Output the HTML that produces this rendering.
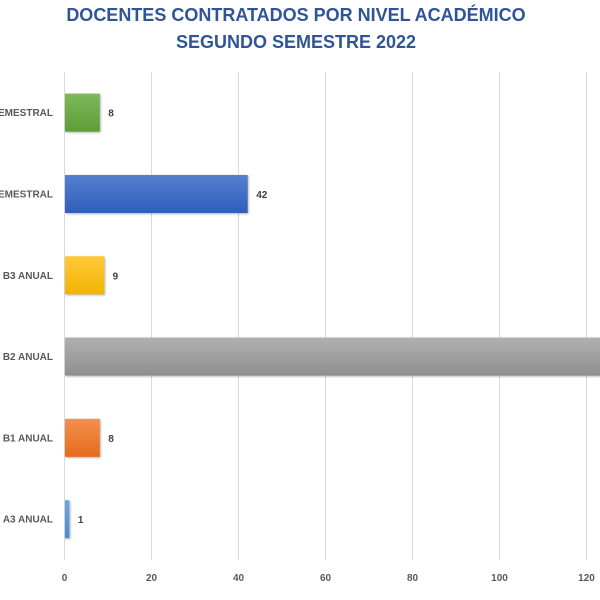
<!DOCTYPE html>
<html><head><meta charset="utf-8"><style>
html,body{margin:0;padding:0;background:#fff;overflow:hidden}
svg{display:block;font-family:"Liberation Sans",sans-serif}
</style></head><body>
<svg id="chart" width="600" height="600" viewBox="0 0 600 600">
<defs>
<linearGradient id="gGreen" x1="0" y1="0" x2="0" y2="1"><stop offset="0" stop-color="#7cb95a"/><stop offset="1" stop-color="#5e9e36"/></linearGradient>
<linearGradient id="gBlue" x1="0" y1="0" x2="0" y2="1"><stop offset="0" stop-color="#5580d0"/><stop offset="1" stop-color="#2f5dbb"/></linearGradient>
<linearGradient id="gYellow" x1="0" y1="0" x2="0" y2="1"><stop offset="0" stop-color="#ffc83a"/><stop offset="1" stop-color="#f0b400"/></linearGradient>
<linearGradient id="gGray" x1="0" y1="0" x2="0" y2="1"><stop offset="0" stop-color="#b0b0b0"/><stop offset="1" stop-color="#8f8f8f"/></linearGradient>
<linearGradient id="gOrange" x1="0" y1="0" x2="0" y2="1"><stop offset="0" stop-color="#f4904c"/><stop offset="1" stop-color="#e56b1f"/></linearGradient>
<linearGradient id="gLight" x1="0" y1="0" x2="0" y2="1"><stop offset="0" stop-color="#6fa8e0"/><stop offset="1" stop-color="#4a8bd0"/></linearGradient>
</defs>
<text x="296" y="21" text-anchor="middle" font-size="18" font-weight="bold" fill="#2f5597">DOCENTES CONTRATADOS POR NIVEL ACADÉMICO</text>
<text x="296" y="48" text-anchor="middle" font-size="18" font-weight="bold" fill="#2f5597">SEGUNDO SEMESTRE 2022</text>
<g id="grid"></g><g id="bars"></g><g id="labels"></g>
</svg>
<script>
const categories = ["B2 SEMESTRAL","B1 SEMESTRAL","B3 ANUAL","B2 ANUAL","B1 ANUAL","A3 ANUAL"];
const values = [8, 42, 9, 140, 8, 1];
const ticks = [0,20,40,60,80,100,120,140];
const fills = ["gGreen","gBlue","gYellow","gGray","gOrange","gLight"];
const NS="http://www.w3.org/2000/svg";
const x0=64.5, pxPer=4.35, gridTop=72, gridBottom=560, bandTop=72, band=81.3, barH=38;
const xs=v=>x0+v*pxPer;
const ys=i=>bandTop+i*band+(band-barH)/2;
function mk(t,a,p){const e=document.createElementNS(NS,t);for(const k in a)e.setAttribute(k,a[k]);p.appendChild(e);return e;}
const grid=document.getElementById('grid'),bars=document.getElementById('bars'),labels=document.getElementById('labels');
ticks.forEach(t=>{
  const l=mk('line',{x1:xs(t),x2:xs(t),y1:gridTop,y2:gridBottom,stroke:'#d9d9d9','stroke-width':1},grid);
  
  
  const tx=mk('text',{x:xs(t),y:581,'text-anchor':'middle','font-size':10,'font-weight':'bold',fill:'#595959'},labels);
  tx.textContent=t;
  
  
});
categories.forEach((c,i)=>{
  const y=ys(i);
  const r=mk('rect',{x:x0+0.5,y:y,width:Math.max(values[i]*pxPer,2),height:barH,fill:'url(#'+fills[i]+')',style:'filter:drop-shadow(1px 1px 1px rgba(0,0,0,0.3))'},bars);
  
  
  const cl=mk('text',{x:53,y:y+barH/2+3.5,'text-anchor':'end','font-size':10,'font-weight':'bold',fill:'#595959'},labels);
  cl.textContent=c;
  
  
  const vl=mk('text',{x:xs(values[i])+9,y:y+barH/2+4,'font-size':10,'font-weight':'bold',fill:'#404040'},labels);
  vl.textContent=values[i];
  
  
});
</script>
</body></html>
